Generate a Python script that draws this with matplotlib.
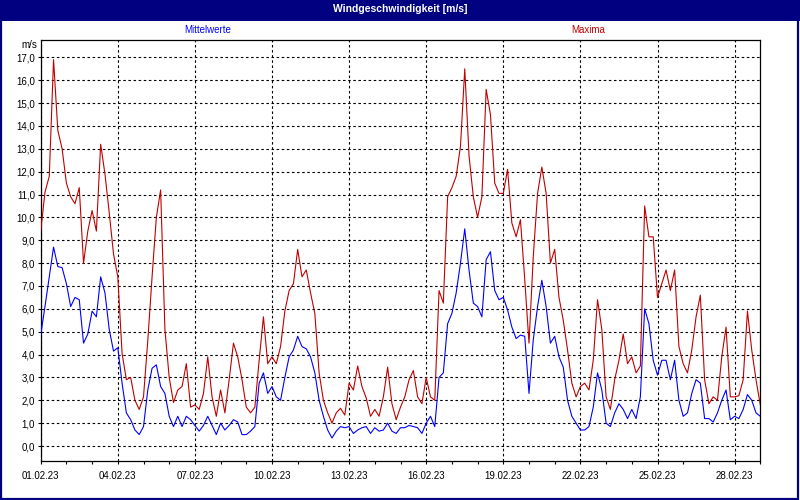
import numpy as np
import pandas as pd
import matplotlib
matplotlib.use("Agg")
import matplotlib.pyplot as plt
import matplotlib.dates as mdates
from matplotlib.patches import Rectangle

# Windgeschwindigkeit Februar 2023, Werte alle 4 Stunden
start = "2023-02-01"
step = "4h"

# Mittelwerte [m/s], 6 Werte pro Tag
mittel = [
    4.85, 6.1, 7.4, 8.7, 7.85, 7.8,     # 01.02
    7.1, 6.1, 6.5, 6.4, 4.5, 4.9,       # 02.02
    5.9, 5.65, 7.4, 6.7, 5.1, 4.15,     # 03.02
    4.3, 2.75, 1.45, 1.15, 0.7, 0.5,    # 04.02
    0.85, 2.45, 3.4, 3.55, 2.6, 2.3,    # 05.02
    1.3, 0.85, 1.3, 0.85, 1.3, 1.15,    # 06.02
    0.9, 0.65, 0.9, 1.3, 0.9, 0.5,      # 07.02
    1.0, 0.7, 0.9, 1.15, 1.05, 0.5,     # 08.02
    0.5, 0.65, 0.85, 2.75, 3.2, 2.3,    # 09.02
    2.6, 2.15, 2.0, 3.0, 3.9, 4.2,      # 10.02
    4.8, 4.35, 4.25, 3.9, 3.2, 2.0,     # 11.02
    1.3, 0.7, 0.35, 0.65, 0.85, 0.8,    # 12.02
    0.85, 0.55, 0.7, 0.8, 0.85, 0.55,   # 13.02
    0.8, 0.65, 0.7, 1.0, 0.65, 0.55,    # 14.02
    0.8, 0.8, 0.9, 0.85, 0.8, 0.55,     # 15.02
    1.0, 1.3, 0.85, 3.0, 3.2, 5.35,     # 16.02
    5.8, 6.7, 8.0, 9.5, 7.7, 6.25,      # 17.02
    6.1, 5.65, 8.15, 8.5, 6.8, 6.4,     # 18.02
    6.5, 5.95, 5.2, 4.7, 4.85, 4.8,     # 19.02
    2.3, 4.65, 6.1, 7.25, 6.1, 4.5,     # 20.02
    4.8, 3.9, 3.45, 2.0, 1.3, 1.0,      # 21.02
    0.7, 0.7, 0.85, 1.7, 3.2, 2.45,     # 22.02
    1.0, 0.85, 1.45, 1.85, 1.6, 1.2,    # 23.02
    1.6, 1.2, 2.15, 6.0, 5.35, 3.75,    # 24.02
    3.1, 3.75, 3.75, 2.9, 3.75, 2.0,    # 25.02
    1.3, 1.45, 2.3, 2.9, 2.75, 1.2,     # 26.02
    1.2, 1.05, 1.45, 2.0, 2.45, 1.15,   # 27.02
    1.3, 1.2, 1.6, 2.25, 2.0, 1.45,     # 28.02
    1.3,
]

# Maxima [m/s]
maxima = [
    9.4, 11.1, 11.8, 16.9, 13.8, 13.0,
    11.5, 10.9, 10.6, 11.3, 8.0, 9.4,
    10.3, 9.4, 13.2, 11.9, 10.2, 8.4,
    7.4, 4.05, 2.9, 3.0, 2.0, 1.6,
    2.15, 4.6, 7.4, 10.0, 11.2, 5.1,
    3.0, 1.9, 2.45, 2.6, 3.6, 1.7,
    1.8, 1.6, 2.3, 3.9, 2.15, 1.3,
    2.45, 1.45, 2.9, 4.5, 3.9, 2.9,
    1.7, 1.45, 1.7, 3.75, 5.65, 3.6,
    3.9, 3.6, 4.35, 5.9, 6.8, 7.1,
    8.6, 7.4, 7.7, 6.7, 5.8, 3.2,
    2.0, 1.45, 1.0, 1.45, 1.65, 1.35,
    2.75, 2.45, 3.5, 2.6, 2.1, 1.3,
    1.6, 1.3, 2.15, 3.45, 1.85, 1.15,
    1.7, 2.15, 2.9, 3.3, 2.15, 1.85,
    3.0, 2.15, 2.0, 6.8, 6.25, 10.9,
    11.3, 11.8, 13.1, 16.5, 12.7, 10.9,
    10.0, 10.9, 15.6, 14.5, 11.5, 11.05,
    11.05, 12.1, 9.75, 9.15, 9.9, 7.3,
    4.5, 8.3, 11.05, 12.2, 11.05, 8.0,
    8.6, 6.5, 5.5, 4.2, 2.75, 2.15,
    2.6, 2.75, 2.45, 3.75, 6.4, 5.1,
    2.15, 1.6, 2.9, 3.75, 4.9, 3.6,
    3.9, 3.2, 3.5, 10.5, 9.15, 9.15,
    6.5, 7.1, 7.7, 6.8, 7.7, 4.35,
    3.6, 3.2, 4.2, 5.65, 6.6, 2.9,
    1.85, 2.15, 2.0, 3.9, 5.2, 2.15,
    2.15, 2.2, 2.9, 5.9, 4.2, 2.9,
    1.8,
]

y_ticks = np.arange(0, 18, 1.0)
x_tick_days = pd.date_range(start, periods=10, freq="3D")   # 01.02. ... 28.02.

NAVY = "#000080"
BLUE = "#0000ff"
RED = "#c00000"

plt.rcParams["font.family"] = ["Liberation Sans", "DejaVu Sans"]

zeit = pd.date_range(start, periods=len(mittel), freq=step)

fig = plt.figure(figsize=(8, 5), dpi=100, facecolor="white")

# Titelleiste + Rahmen
fig.patches.append(Rectangle((0, 1 - 21 / 500), 1, 21 / 500, transform=fig.transFigure,
                             facecolor=NAVY, edgecolor="none", zorder=0))
fig.patches.append(Rectangle((0.001, 0.002), 0.997, 0.996, transform=fig.transFigure,
                             facecolor="none", edgecolor=NAVY, linewidth=1.6, zorder=1))
fig.text(0.5, 1 - 9.5 / 500, "Windgeschwindigkeit [m/s]", color="white", fontsize=7.5,
         fontweight="bold", ha="center", va="center")
fig.text(208 / 800, 1 - 30 / 500, "Mittelwerte", color=BLUE, fontsize=7, ha="center", va="center")
fig.text(588 / 800, 1 - 30 / 500, "Maxima", color=RED, fontsize=7, ha="center", va="center")
fig.text(37 / 800, 1 - 45 / 500, "m/s", color="black", fontsize=7, ha="right", va="center")

ax = fig.add_axes([40.7 / 800, 39 / 500, 719.6 / 800, 421 / 500])
ax.set_facecolor("white")

ax.plot(zeit, maxima, color=RED, linewidth=0.8, zorder=3)
ax.plot(zeit, mittel, color=BLUE, linewidth=0.8, zorder=4)

ax.set_xlim(zeit[0], zeit[-1])
ax.set_ylim(-0.656, 17.76)

ax.set_yticks(y_ticks)
ax.set_yticklabels([f"{v:.1f}".replace(".", ",") for v in y_ticks])
ax.set_xticks(x_tick_days)
ax.xaxis.set_minor_locator(mdates.DayLocator())
ax.xaxis.set_major_formatter(mdates.DateFormatter("%d.%m.%y"))

ax.tick_params(axis="both", which="both", direction="out", length=2.5, width=0.8,
               labelsize=7, color="black", pad=1.5)
ax.tick_params(axis="x", which="major", pad=4.5)

ax.grid(True, which="major", color="black", linestyle=(0, (2.3, 2.3)), linewidth=0.8)
for sp in ax.spines.values():
    sp.set_color("black")
    sp.set_linewidth(0.9)

fig.savefig("out.png", dpi=100, facecolor="white")
